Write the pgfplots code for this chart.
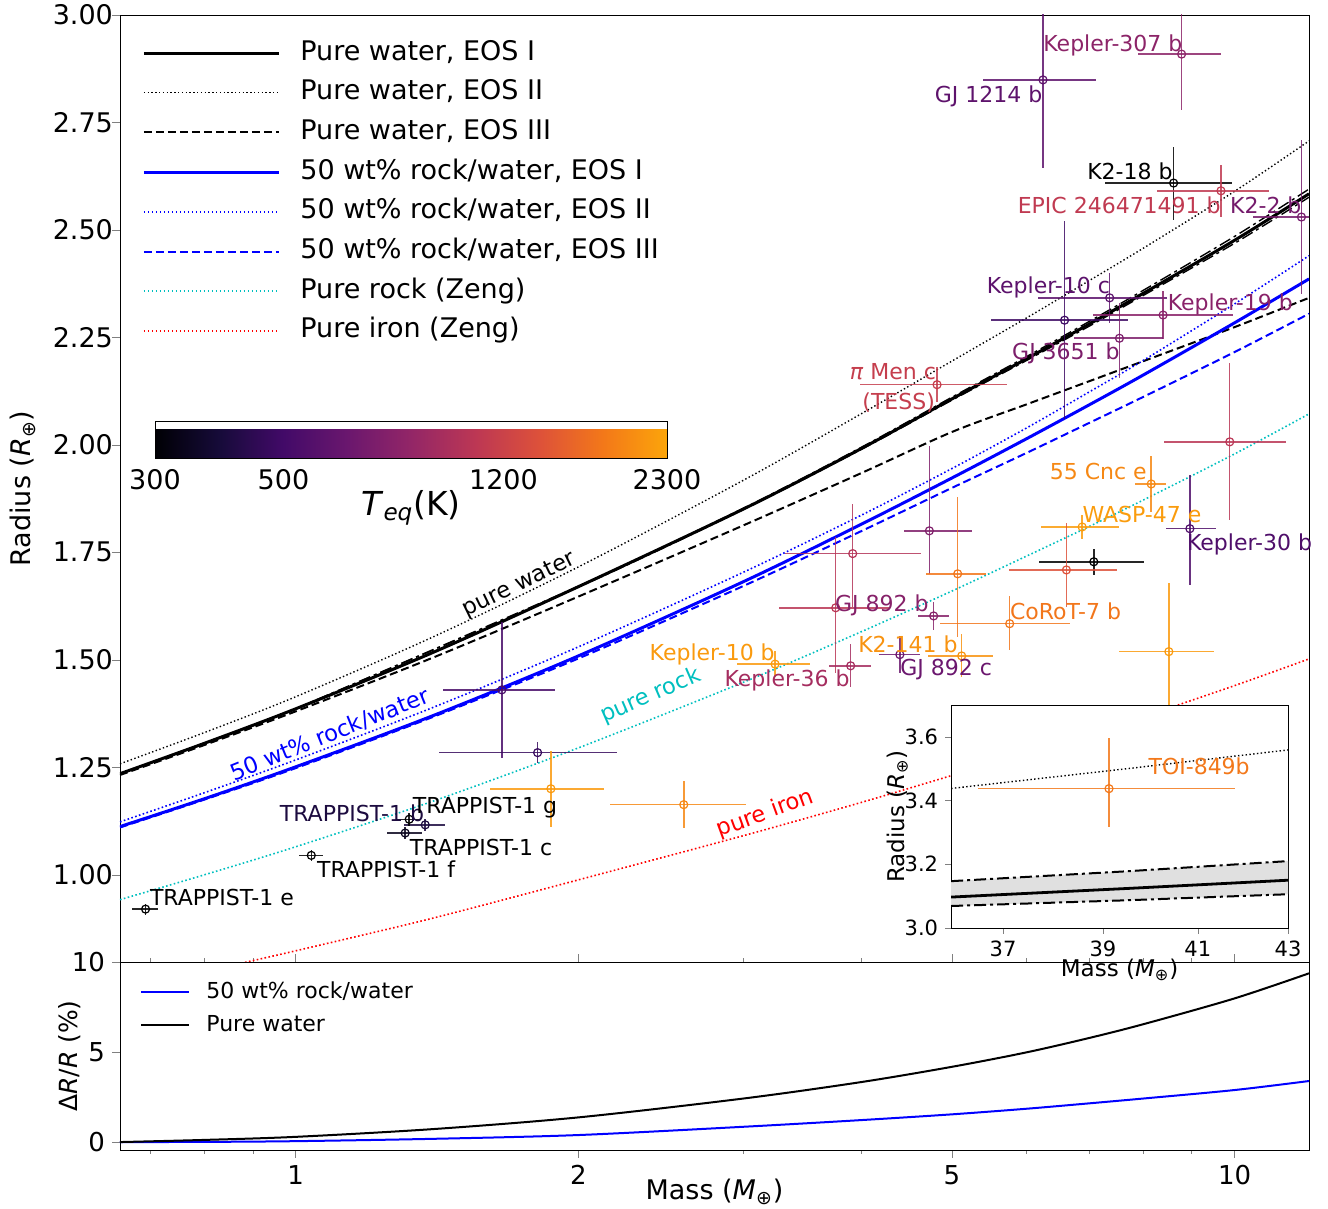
\documentclass[border=0pt]{standalone}
\usepackage{fontspec}
\setmainfont{DejaVu Sans}
\setsansfont{DejaVu Sans}
\usepackage{pgfplots}
\pgfplotsset{compat=1.18}
\usetikzlibrary{calc}
\pgfplotsset{colormap={infernoT}{rgb255=(0,0,4) rgb255=(22,11,57) rgb255=(66,10,104) rgb255=(106,23,110) rgb255=(147,38,103) rgb255=(188,55,84) rgb255=(221,81,58) rgb255=(243,120,25) rgb255=(252,165,10)}}
\definecolor{cyanz}{rgb}{0,0.75,0.75}
\definecolor{cGJ1214}{HTML}{5E136C}
\definecolor{cKtwo}{HTML}{8C2468}
\definecolor{cEPIC}{HTML}{C03A51}
\definecolor{cKtt}{HTML}{751B6C}
\definecolor{cKtenc}{HTML}{5C126C}
\definecolor{cUa}{HTML}{3E0A64}
\definecolor{cKnin}{HTML}{892269}
\definecolor{cGJtsf}{HTML}{7C1E6B}
\definecolor{cPiMen}{HTML}{C53E4D}
\definecolor{cUb}{HTML}{BA3655}
\definecolor{cCnc}{HTML}{F68814}
\definecolor{cWASP}{HTML}{FA9C0D}
\definecolor{cKthirty}{HTML}{4F0E6A}
\definecolor{cUd}{HTML}{DD513A}
\definecolor{cUe}{HTML}{7F1F6A}
\definecolor{cUf}{HTML}{F2761A}
\definecolor{cUg}{HTML}{B43458}
\definecolor{cUh}{HTML}{BA3655}
\definecolor{cGJb}{HTML}{862169}
\definecolor{cKts}{HTML}{A52D5F}
\definecolor{cGJc}{HTML}{6B176E}
\definecolor{cKfo}{HTML}{F89310}
\definecolor{cCoRoT}{HTML}{F2761B}
\definecolor{cKtenb}{HTML}{FA9A0E}
\definecolor{cUi}{HTML}{FA9A0E}
\definecolor{cUj}{HTML}{480C69}
\definecolor{cUk}{HTML}{370A5D}
\definecolor{cUl}{HTML}{FA9A0E}
\definecolor{cUm}{HTML}{F68814}
\definecolor{cTb}{HTML}{1C0B3F}
\definecolor{cTc}{HTML}{0B061F}
\definecolor{cTOI}{HTML}{F3781A}
\newcommand{\pl}[7]{\addplot[forget plot, only marks, color=#1, mark=o, mark size=2pt, mark options={solid, fill=none, line width=0.6pt}, error bars/.cd, x dir=both, x explicit, y dir=both, y explicit, error mark=none, error bar style={line width=0.75pt, opacity=0.85}] coordinates {(#2,#3) += (#4,#6) -= (#5,#7)};}
\newcommand{\lab}[4]{\node[anchor=west, inner sep=0pt, text=#1, font=\fontsize{11}{13}\selectfont] at (axis cs:#2,#3) {#4};}
\begin{document}
\begin{tikzpicture}
\useasboundingbox (0,0) rectangle (664pt,604.5pt);
% ---------------- main axis
\begin{axis}[
  at={(60pt,123.5pt)}, anchor=south west,
  width=594.5pt, height=473.5pt, scale only axis,
  xmode=log, xmin=0.65, xmax=12, ymin=0.797, ymax=3.0,
  xtick={1,2,5,10}, xticklabels={}, minor xtick={0.7,0.8,0.9,3,4,6,7,8,9},
  ytick={1,1.25,1.5,1.75,2,2.25,2.5,2.75,3},
  yticklabels={1.00,1.25,1.50,1.75,2.00,2.25,2.50,2.75,3.00},
  xtick pos=left, ytick pos=left,
  major tick length=4pt, minor tick length=2pt,
  ytick style={xshift=-4pt},
  ticklabel style={font=\fontsize{13.5}{16}\selectfont},
  /pgf/number format/assume math mode=true,
  ylabel={Radius (\textit{R}\textsubscript{⊕})},
  ylabel style={at={(axis description cs:-0.0816,0.5)}, anchor=center, font=\fontsize{13.5}{16}\selectfont},
  clip mode=individual,
  legend style={at={(axis description cs:0.0185,0.975)}, anchor=north west, draw=none, fill=none,
    font=\fontsize{13.5}{16}\selectfont, row sep=5.85pt, column sep=10pt, inner sep=0pt,
    nodes={inner sep=0pt, text height=10.5pt, text depth=3.5pt}},
  legend image code/.code={\draw[#1] (0pt,0pt) -- (67.5pt,0pt);},
  legend cell align=left,
  colorbar horizontal, colormap name=infernoT,
  point meta min=2.4771, point meta max=3.3617,
  colorbar style={
    at={($(parent axis.south west)+(17.5pt,260.5pt)$)}, anchor=south west,
    width=256pt, height=18.5pt, scale only axis,
    xtick={2.4771,2.6990,3.0792,3.3617}, xticklabels={300,500,1200,2300},
    xtick style={draw=none},
    xticklabel style={font=\fontsize{13.5}{16}\selectfont, yshift=-2pt},
    /pgf/number format/assume math mode=true,
    xlabel={\textit{T}\textsubscript{\textit{eq}}(K)},
    xlabel style={font=\fontsize{16.5}{19}\selectfont, at={(axis description cs:0.5,-1.35)}, anchor=center},
  },
]
% uncertainty band of pure water EOS I
\addplot[forget plot, black, line width=0.7pt, dash pattern=on 6pt off 2pt on 1.5pt off 2pt, smooth]
 coordinates {(1,1.386)(2,1.671)(3,1.853)(4,1.994)(5,2.111)(6,2.205)(7,2.287)(8,2.360)(10,2.485)(12,2.595)};
\addplot[forget plot, black, line width=0.7pt, dash pattern=on 6pt off 2pt on 1.5pt off 2pt, smooth]
 coordinates {(1,1.386)(2,1.669)(3,1.850)(4,1.989)(5,2.104)(6,2.196)(7,2.276)(8,2.348)(10,2.469)(12,2.576)};
\addplot[black, line width=1.5pt, smooth] coordinates {(0.65,1.235)(0.8,1.306)(1,1.386)(1.4,1.517)(2,1.670)(3,1.851)(4,1.991)(5,2.107)(6,2.200)(7,2.281)(8,2.353)(10,2.476)(12,2.584)};
\addlegendentry{Pure water, EOS I}
\addplot[black, line width=0.7pt, dash pattern=on 0.7pt off 1.2pt, smooth] coordinates {(0.65,1.258)(0.8,1.331)(1,1.414)(1.4,1.553)(2,1.716)(3,1.918)(4,2.072)(5,2.195)(6,2.295)(7,2.382)(8,2.458)(10,2.590)(12,2.707)};
\addlegendentry{Pure water, EOS II}
\addplot[black, line width=1pt, dash pattern=on 4pt off 2pt, smooth] coordinates {(0.65,1.232)(0.8,1.302)(1,1.380)(1.4,1.505)(2,1.647)(3,1.813)(4,1.934)(5,2.030)(6,2.094)(7,2.148)(8,2.195)(10,2.274)(12,2.342)};
\addlegendentry{Pure water, EOS III}
\addplot[blue, line width=1.5pt, smooth] coordinates {(0.65,1.112)(0.8,1.177)(1,1.251)(1.4,1.370)(2,1.509)(3,1.682)(4,1.815)(5,1.923)(6,2.014)(7,2.093)(8,2.163)(10,2.284)(12,2.386)};
\addlegendentry{50 wt\% rock/water, EOS I}
\addplot[blue, line width=0.8pt, dash pattern=on 0.8pt off 1.2pt, smooth] coordinates {(0.65,1.123)(0.8,1.191)(1,1.267)(1.4,1.389)(2,1.530)(3,1.704)(4,1.836)(5,1.945)(6,2.039)(7,2.123)(8,2.197)(10,2.328)(12,2.44)};
\addlegendentry{50 wt\% rock/water, EOS II}
\addplot[blue, line width=1pt, dash pattern=on 4pt off 2pt, smooth] coordinates {(0.65,1.110)(0.8,1.175)(1,1.248)(1.4,1.367)(2,1.503)(3,1.672)(4,1.799)(5,1.900)(6,1.981)(7,2.051)(8,2.112)(10,2.216)(12,2.305)};
\addlegendentry{50 wt\% rock/water, EOS III}
\addplot[cyanz, line width=0.8pt, dash pattern=on 0.8pt off 1.2pt, smooth] coordinates {(0.65,0.942)(0.8,1.000)(1,1.065)(1.4,1.171)(2,1.295)(3,1.448)(4,1.565)(5,1.660)(6,1.741)(7,1.810)(8,1.872)(10,1.979)(12,2.072)};
\addlegendentry{Pure rock (Zeng)}
\addplot[red, line width=0.8pt, dash pattern=on 0.8pt off 1.2pt, smooth] coordinates {(0.85,0.788)(1,0.823)(1.4,0.899)(2,0.988)(3,1.091)(4,1.168)(5,1.231)(6,1.283)(7,1.328)(8,1.368)(10,1.440)(12,1.502)};
\addlegendentry{Pure iron (Zeng)}
% planets: colour, M, R, M+, M-, R+, R-
\pl{cGJ1214}{6.25}{2.849}{0.86}{0.86}{0.205}{0.205}
\pl{cKtwo}{8.78}{2.909}{0.88}{0.88}{0.13}{0.13}
\pl{black}{8.61}{2.609}{1.33}{1.33}{0.085}{0.085}
\pl{cEPIC}{9.67}{2.591}{1.2}{1.4}{0.06}{0.06}
\pl{cKtt}{11.78}{2.530}{1.33}{1.33}{0.18}{0.18}
\pl{cKtenc}{7.36}{2.342}{1.12}{1.19}{0.058}{0.058}
\pl{cUa}{6.59}{2.29}{1.10}{1.09}{0.23}{0.23}
\pl{cKnin}{8.39}{2.302}{1.57}{1.32}{0.056}{0.056}
\pl{cGJtsf}{7.54}{2.248}{0.85}{0.79}{0.082}{0.092}
\pl{cPiMen}{4.82}{2.14}{0.90}{0.83}{0.04}{0.04}
\pl{cUb}{9.88}{2.007}{1.45}{1.47}{0.183}{0.181}
\pl{cCnc}{8.15}{1.909}{0.31}{0.31}{0.066}{0.066}
\pl{cWASP}{6.88}{1.809}{0.66}{0.66}{0.027}{0.027}
\pl{cKthirty}{8.96}{1.805}{0.6}{0.51}{0.125}{0.131}
\pl{black}{7.08}{1.728}{0.92}{0.89}{0.03}{0.03}
\pl{cUd}{6.62}{1.709}{0.87}{0.87}{0.11}{0.086}
\pl{cUe}{4.73}{1.80}{0.52}{0.29}{0.198}{0.10}
\pl{cUf}{5.07}{1.70}{0.37}{0.38}{0.179}{0.147}
\pl{cUg}{3.92}{1.747}{0.71}{0.60}{0.116}{0.124}
\pl{cUh}{3.76}{1.621}{0.52}{0.49}{0.165}{0.151}
\pl{cGJb}{4.78}{1.602}{0.18}{0.18}{0.033}{0.033}
\pl{cKts}{3.90}{1.486}{0.2}{0.2}{0.05}{0.05}
\pl{cGJc}{4.40}{1.512}{0.22}{0.22}{0.043}{0.043}
\pl{cKfo}{5.12}{1.509}{0.41}{0.41}{0.05}{0.05}
\pl{cCoRoT}{5.76}{1.584}{0.91}{0.91}{0.065}{0.061}
\pl{cKtenb}{3.24}{1.49}{0.29}{0.29}{0.03}{0.03}
\pl{cUi}{8.51}{1.519}{0.99}{0.97}{0.16}{0.16}
\pl{cUj}{1.658}{1.43}{0.229}{0.224}{0.158}{0.158}
\pl{cUk}{1.81}{1.284}{0.39}{0.39}{0.025}{0.025}
\pl{cUl}{1.87}{1.20}{0.26}{0.26}{0.088}{0.088}
\pl{cUm}{2.59}{1.163}{0.43}{0.43}{0.055}{0.055}
\pl{cTb}{1.374}{1.116}{0.069}{0.069}{0.014}{0.014}
\pl{cTc}{1.308}{1.097}{0.056}{0.056}{0.014}{0.014}
\pl{black}{0.692}{0.920}{0.022}{0.022}{0.013}{0.013}
\pl{black}{1.039}{1.045}{0.031}{0.031}{0.013}{0.013}
\pl{black}{1.321}{1.129}{0.038}{0.038}{0.015}{0.015}
% labels
\lab{cTb}{0.961}{1.144}{TRAPPIST-1 b}
\lab{black}{1.332}{1.156}{TRAPPIST-1 g}
\lab{black}{1.322}{1.063}{TRAPPIST-1 c}
\lab{black}{1.053}{1.012}{TRAPPIST-1 f}
\lab{black}{0.699}{0.947}{TRAPPIST-1 e}
\lab{cKtwo}{6.25}{2.930}{Kepler-307 b}
\lab{cGJ1214}{4.79}{2.810}{GJ 1214 b}
\lab{black}{6.96}{2.637}{K2-18 b}
\lab{cEPIC}{5.87}{2.558}{EPIC 246471491 b}
\lab{cKtt}{9.88}{2.558}{K2-2 b}
\lab{cKtenc}{5.44}{2.367}{Kepler-10 c}
\lab{cKnin}{8.48}{2.326}{Kepler-19 b}
\lab{cGJtsf}{5.79}{2.214}{GJ 3651 b}
\lab{cPiMen}{3.89}{2.170}{\textit{π} Men c}
\lab{cPiMen}{4.01}{2.098}{(TESS)}
\lab{cCnc}{6.35}{1.937}{55 Cnc e}
\lab{cWASP}{6.88}{1.837}{WASP-47 e}
\lab{cKthirty}{8.89}{1.768}{Kepler-30 b}
\lab{cGJb}{3.75}{1.626}{GJ 892 b}
\lab{cCoRoT}{5.76}{1.612}{CoRoT-7 b}
\lab{cKfo}{3.97}{1.535}{K2-141 b}
\lab{cKtenb}{2.38}{1.512}{Kepler-10 b}
\lab{cKts}{2.86}{1.453}{Kepler-36 b}
\lab{cGJc}{4.40}{1.477}{GJ 892 c}
\node[rotate=26, text=black, font=\fontsize{11.3}{13}\selectfont] at (axis cs:1.73,1.674) {pure water};
\node[rotate=22, text=blue, font=\fontsize{11.3}{13}\selectfont] at (axis cs:1.087,1.326) {50 wt\% rock/water};
\node[rotate=23.5, text=cyanz, font=\fontsize{11.3}{13}\selectfont] at (axis cs:2.388,1.416) {pure rock};
\node[rotate=20, text=red, font=\fontsize{11.3}{13}\selectfont] at (axis cs:3.163,1.142) {pure iron};
\end{axis}
% ---------------- lower panel
\begin{axis}[
  at={(60pt,29.5pt)}, anchor=south west,
  width=594.5pt, height=94pt, scale only axis,
  xmode=log, xmin=0.65, xmax=12, ymin=-0.44, ymax=10,
  xtick={1,2,5,10}, xticklabels={1,2,5,10}, minor xtick={0.7,0.8,0.9,3,4,6,7,8,9},
  ytick={0,5,10}, yticklabels={0,5,10},
  xtick pos=left, ytick pos=left, tick align=outside,
  major tick length=4pt, minor tick length=2pt,
  ticklabel style={font=\fontsize{13}{15}\selectfont},
  /pgf/number format/assume math mode=true,
  xlabel={Mass (\textit{M}\textsubscript{⊕})},
  xlabel style={at={(axis description cs:0.5,-0.223)}, anchor=center, font=\fontsize{13.5}{16}\selectfont},
  ylabel={Δ\textit{R}/\textit{R} (\%)},
  ylabel style={at={(axis description cs:-0.042,0.5)}, anchor=center, font=\fontsize{12.5}{15}\selectfont},
  legend style={at={(axis description cs:0.0168,0.90)}, anchor=north west, draw=none, fill=none,
    font=\fontsize{11}{13}\selectfont, row sep=5.4pt, column sep=8pt, inner sep=0pt,
    nodes={inner sep=0pt, text height=8.5pt, text depth=2.6pt}},
  legend image code/.code={\draw[#1] (0pt,0pt) -- (24pt,0pt);},
  legend cell align=left,
]
\addplot[blue, line width=1pt, smooth] coordinates {(0.65,0.0)(0.8,0.01)(1,0.05)(1.4,0.18)(2,0.39)(3,0.85)(4,1.22)(5,1.54)(6,1.85)(7,2.15)(8,2.42)(10,2.89)(12,3.39)};
\addlegendentry{50 wt\% rock/water}
\addplot[black, line width=1pt, smooth] coordinates {(0.65,0.0)(0.8,0.12)(1,0.29)(1.4,0.72)(2,1.37)(3,2.42)(4,3.33)(5,4.18)(6,4.98)(7,5.78)(8,6.55)(10,7.98)(12,9.37)};
\addlegendentry{Pure water}
\end{axis}
% ---------------- inset
\begin{axis}[
  at={(475.5pt,140.5pt)}, anchor=south west,
  width=168.5pt, height=111.5pt, scale only axis,
  xmode=log, xmin=36, xmax=43, ymin=3.0, ymax=3.7,
  xtick={37,39,41,43}, xticklabels={37,39,41,43}, xminorticks=false,
  ytick={3.0,3.2,3.4,3.6}, yticklabels={3.0,3.2,3.4,3.6},
  tick align=outside, xtick pos=left, ytick pos=left, major tick length=3pt,
  ticklabel style={font=\fontsize{10.5}{12}\selectfont},
  /pgf/number format/assume math mode=true,
  axis background/.style={fill=white},
  xlabel={Mass (\textit{M}\textsubscript{⊕})},
  ylabel={Radius (\textit{R}\textsubscript{⊕})},
  xlabel style={at={(axis description cs:0.5,-0.188)}, anchor=center, font=\fontsize{11.5}{13}\selectfont},
  ylabel style={at={(axis description cs:-0.160,0.5)}, anchor=center, font=\fontsize{11.5}{13}\selectfont},
  clip mode=individual,
]
\addplot[fill=black!12, draw=none] coordinates {(36,3.147)(39.5,3.178)(43,3.210)(43,3.106)(39.5,3.087)(36,3.069)} -- cycle;
\addplot[black, line width=1pt, dash pattern=on 6pt off 2pt on 1.5pt off 2pt] coordinates {(36,3.147)(39.5,3.178)(43,3.210)};
\addplot[black, line width=1pt, dash pattern=on 6pt off 2pt on 1.5pt off 2pt] coordinates {(36,3.069)(39.5,3.087)(43,3.106)};
\addplot[black, line width=1.4pt] coordinates {(36,3.097)(39.5,3.124)(43,3.150)};
\addplot[black, line width=0.7pt, dash pattern=on 0.7pt off 1.2pt] coordinates {(36,3.438)(39.5,3.500)(43,3.559)};
\pl{cTOI}{39.13}{3.4375}{2.68}{2.62}{0.16}{0.12}
\lab{cTOI}{39.95}{3.509}{TOI-849b}
\end{axis}
\end{tikzpicture}
\end{document}
